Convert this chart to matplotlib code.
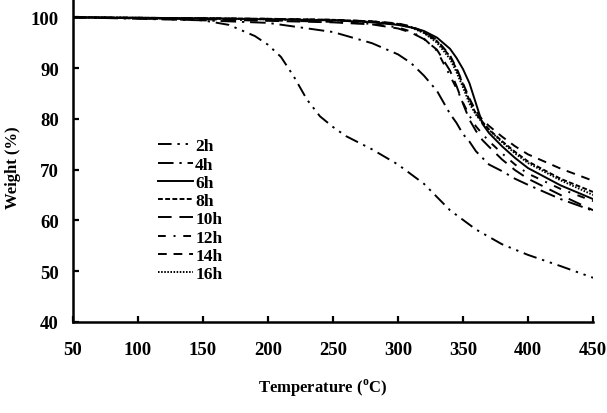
import matplotlib
matplotlib.use('Agg')
import matplotlib.pyplot as plt

plt.rcParams['font.family'] = ['Liberation Serif', 'DejaVu Serif']
plt.rcParams['font.weight'] = 'bold'
plt.rcParams['mathtext.fontset'] = 'custom'
plt.rcParams['mathtext.rm'] = 'Liberation Serif:bold'

# temperature grid (C) for the 4h-16h samples
temp = [50, 100, 150, 200, 250, 280, 300, 310, 320, 330, 340, 345, 350,
        355, 360, 365, 370, 380, 390, 400, 425, 450]

w6h = [100, 99.9, 99.8, 99.6, 99.4, 99.0, 98.5, 98.0, 97.3, 96.0, 93.8, 92.0,
       89.8, 87.0, 83.0, 79.0, 77.2, 74.6, 72.3, 70.3, 66.9, 64.2]
w8h = [100, 99.9, 99.8, 99.7, 99.5, 99.2, 98.7, 98.1, 97.0, 95.3, 92.3, 89.8,
       86.8, 83.6, 81.0, 79.4, 77.9, 75.6, 73.5, 71.6, 68.2, 65.6]
w14h = [100, 99.9, 99.8, 99.7, 99.5, 99.2, 98.8, 98.2, 97.2, 95.5, 92.5, 90.0,
        87.0, 84.0, 81.5, 79.8, 78.6, 76.5, 74.6, 73.0, 70.2, 67.8]
w16h = [100, 99.9, 99.8, 99.6, 99.4, 99.1, 98.6, 98.0, 96.9, 95.0, 91.8, 89.2,
        86.2, 83.0, 80.8, 79.2, 77.8, 75.4, 73.2, 71.3, 67.9, 65.0]
w12h = [100, 99.8, 99.6, 99.4, 99.1, 98.7, 98.0, 97.2, 95.8, 93.4, 88.5, 86.0,
        83.2, 80.6, 78.5, 77.0, 75.6, 73.2, 71.0, 69.2, 66.2, 63.8]
w10h = [100, 99.8, 99.6, 99.3, 99.0, 98.6, 97.8, 97.0, 95.7, 93.6, 89.5, 86.5,
        83.0, 79.8, 77.6, 75.8, 74.5, 72.0, 69.9, 68.2, 65.0, 62.0]
w4h = [100, 99.7, 99.4, 98.9, 97.1, 94.9, 92.7, 91.0, 88.5, 85.5, 81.0, 79.2,
       77.0, 75.5, 73.6, 72.3, 71.0, 69.7, 68.2, 67.0, 64.2, 61.9]

# 2h falls much earlier, own grid
temp2 = [50, 100, 150, 170, 190, 200, 210, 220, 230, 240, 250, 260, 280, 300,
         320, 340, 360, 380, 400, 425, 450]
w2h = [100, 99.8, 99.4, 98.5, 96.3, 94.6, 92.2, 88.3, 83.8, 80.5, 78.4, 76.6,
       74.0, 71.0, 67.2, 62.0, 58.2, 55.3, 53.2, 51.0, 48.7]

fig = plt.figure(figsize=(6.07, 4.14), dpi=100)
ax = fig.add_axes([0.120, 0.220, 0.857, 0.780])

lw = 1.4
ax.plot(temp2, w2h, color='black', lw=lw, ls=(0, (7, 3, 1.2, 3, 1.2, 3)), label='2h')
ax.plot(temp, w4h, color='black', lw=lw, ls=(0, (8, 3, 1.2, 3)), label='4h')
ax.plot(temp, w6h, color='black', lw=lw, ls='-', label='6h')
ax.plot(temp, w8h, color='black', lw=lw, ls=(0, (2.5, 1.2)), label='8h')
ax.plot(temp, w10h, color='black', lw=lw, ls=(0, (7, 4)), label='10h')
ax.plot(temp, w12h, color='black', lw=lw, ls=(0, (4, 4, 1, 4)), label='12h')
ax.plot(temp, w14h, color='black', lw=lw, ls=(0, (4.5, 3.5)), label='14h')
ax.plot(temp, w16h, color='black', lw=lw, ls=(0, (0.8, 0.8)), label='16h')

ax.set_xlim(50, 450)
ax.set_ylim(40, 103.6)
ax.set_xticks(range(50, 451, 50))
ax.set_yticks(range(40, 101, 10))
for s in ['top', 'right']:
    ax.spines[s].set_visible(False)
for s in ['left', 'bottom']:
    ax.spines[s].set_linewidth(1.8)
ax.tick_params(direction='in', length=4, width=1.6, labelsize=13.5)
ax.tick_params(axis='x', pad=14)
ax.tick_params(axis='y', pad=10)

ax.set_xlabel(r'Temperature ($^{\mathrm{o}}$C)', fontsize=12, fontweight='bold')
ax.set_ylabel('Weight (%)', fontsize=12, fontweight='bold')
ax.xaxis.set_label_coords(0.48, -0.17)
ax.yaxis.set_label_coords(-0.1, 0.48)

leg = ax.legend(loc='upper left', bbox_to_anchor=(0.15, 0.59), frameon=False,
                fontsize=12.5, handlelength=2.0, handletextpad=0.15,
                labelspacing=0.12, borderaxespad=0)

fig.savefig('out.png', dpi=100)
